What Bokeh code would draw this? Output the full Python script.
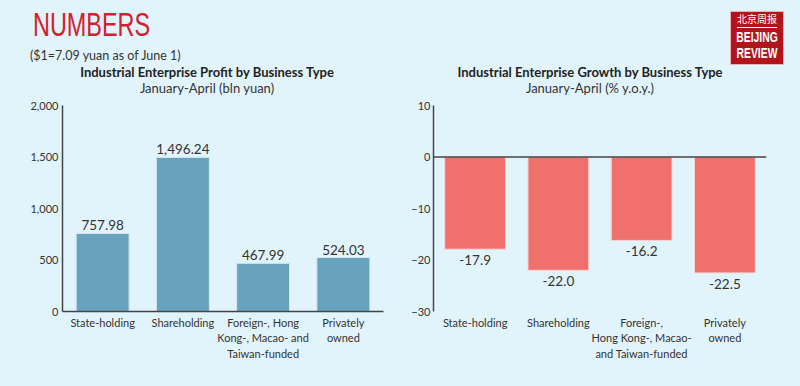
from bokeh.plotting import figure
from bokeh.models import (FactorRange, Range1d, FixedTicker, NumeralTickFormatter,
                          Span, ColumnDataSource, Div)
from bokeh.layouts import row, column
from bokeh.core.properties import value
from bokeh.embed import file_html
from bokeh.resources import INLINE

# ---------------- data ----------------
profit_cats = ["State-holding", "Shareholding",
               "Foreign-, Hong\nKong-, Macao- and\nTaiwan-funded",
               "Privately\nowned"]
profit_vals = [757.98, 1496.24, 467.99, 524.03]
profit_labels = ["757.98", "1,496.24", "467.99", "524.03"]
profit_ticks = [0, 500, 1000, 1500, 2000]

growth_cats = ["State-holding", "Shareholding",
               "Foreign-,\nHong Kong-, Macao-\nand Taiwan-funded",
               "Privately\nowned"]
growth_vals = [-17.9, -22.0, -16.2, -22.5]
growth_labels = ["-17.9", "-22.0", "-16.2", "-22.5"]
growth_ticks = [-30, -20, -10, 0, 10]

header_title = "NUMBERS"
header_note = "($1=7.09 yuan as of June 1)"
left_title = "Industrial Enterprise Profit by Business Type"
left_sub = "January-April (bln yuan)"
right_title = "Industrial Enterprise Growth by Business Type"
right_sub = "January-April (% y.o.y.)"

BG = "#e2f4fb"
FONT = "Lato"
TXT = "#333333"
AX = "#444444"
W = 400
HEAD_H = 96
H = 386 - HEAD_H


def style(p):
    p.background_fill_color = None
    p.border_fill_color = None
    p.outline_line_color = None
    p.styles = {"background-color": BG}
    p.xgrid.grid_line_color = None
    p.ygrid.grid_line_color = None
    for ax in (p.xaxis[0], p.yaxis[0]):
        ax.major_tick_line_color = None
        ax.minor_tick_line_color = None
        ax.major_tick_out = 0
        ax.major_tick_in = 0
        ax.minor_tick_out = 0
        ax.minor_tick_in = 0
        ax.major_label_text_font = FONT
        ax.major_label_text_color = TXT
        ax.major_label_text_font_size = "11px"
        ax.axis_line_color = AX
        ax.axis_line_width = 1.5


# ---------------- header (HTML) ----------------
def span(x, top, text, size, extra="", center=False):
    tr = "transform:translateX(-50%);" if center else ""
    return (f'<span style="position:absolute;left:{x}px;top:{top}px;font-size:{size}px;'
            f'line-height:{size}px;white-space:nowrap;{tr}{extra}">{text}</span>')

head_html = (
    f'<div style="position:relative;width:800px;height:{HEAD_H}px;background:{BG};'
    f'font-family:Lato,sans-serif;color:{TXT};overflow:hidden;">'
    + span(33, 7.5, header_title, 33,
           "font-family:'Liberation Sans',sans-serif;color:#d3202c;"
           "transform:scaleX(0.71);transform-origin:0 0;")
    + span(30, 49.5, header_note, 12.5)
    + span(207, 65.5, left_title, 13, "font-weight:bold;color:#222;", center=True)
    + span(207, 81.5, left_sub, 13, center=True)
    + span(590, 65.5, right_title, 13, "font-weight:bold;color:#222;", center=True)
    + span(590, 81.5, right_sub, 13, center=True)
    + '<div style="position:absolute;left:731px;top:12px;width:52px;height:52px;'
      'background:#b3141c;box-shadow:0 0 0 1px #e6b3b3;color:white;text-align:center;'
      "font-family:'Liberation Sans',sans-serif;font-weight:bold;\">"
    + '<div style="position:absolute;left:-24px;top:2px;width:100px;font-size:10px;line-height:10px;'
      "font-family:'Noto Sans CJK SC';font-weight:normal;\">北京周报</div>"
    + '<div style="position:absolute;left:6px;top:15px;width:40px;height:1px;background:white;"></div>'
    + '<div style="position:absolute;left:-24px;top:16.6px;width:100px;font-size:14px;line-height:16.5px;'
      'transform:scaleX(0.74);">BEIJING<br>REVIEW</div>'
    + '</div></div>'
)
header = Div(text=head_html, width=800, height=HEAD_H, margin=0,
             styles={"background-color": BG})

# ---------------- left chart ----------------
TOP_B, BOT_B = 9, 75
p1 = figure(width=W, height=H, x_range=FactorRange(*profit_cats),
            y_range=Range1d(0, 2000), output_backend="svg", toolbar_location=None,
            min_border_left=62, min_border_right=17,
            min_border_top=TOP_B, min_border_bottom=BOT_B)
style(p1)
src1 = ColumnDataSource(dict(x=profit_cats, top=profit_vals, lab=profit_labels))
p1.vbar(x="x", top="top", width=0.66, source=src1, fill_color="#68a3bd",
        line_color="#d4e9f1", line_width=1)
p1.text(x="x", y="top", text="lab", source=src1, text_align="center",
        text_baseline="bottom", y_offset=-3, text_font=value(FONT),
        text_font_size="13.5px", text_color=TXT)
p1.yaxis[0].ticker = FixedTicker(ticks=profit_ticks)
p1.yaxis[0].formatter = NumeralTickFormatter(format="0,0")
p1.yaxis[0].major_label_standoff = 4
p1.xaxis[0].major_label_standoff = 4

# ---------------- right chart ----------------
p2 = figure(width=W, height=H, x_range=FactorRange(*growth_cats),
            y_range=Range1d(-30, 10), output_backend="svg", toolbar_location=None,
            min_border_left=33, min_border_right=34,
            min_border_top=TOP_B, min_border_bottom=BOT_B)
style(p2)
p2.xaxis[0].axis_line_color = None
p2.xaxis[0].major_label_standoff = 4
p2.yaxis[0].ticker = FixedTicker(ticks=growth_ticks)
p2.yaxis[0].major_label_standoff = 3
src2 = ColumnDataSource(dict(x=growth_cats, top=growth_vals, lab=growth_labels))
p2.vbar(x="x", top="top", bottom=0, width=0.73, source=src2, fill_color="#f0706e",
        line_color="#f6d3d3", line_width=1)
p2.text(x="x", y="top", text="lab", source=src2, text_align="center",
        text_baseline="top", y_offset=6, text_font=value(FONT),
        text_font_size="13.5px", text_color=TXT)
p2.add_layout(Span(location=0, dimension="width", line_color=AX, line_width=1.5))

layout = column(header, row(p1, p2, spacing=0, styles={"background-color": BG}),
                spacing=0, styles={"background-color": BG})
open("out.html", "w").write(file_html(layout, INLINE))
